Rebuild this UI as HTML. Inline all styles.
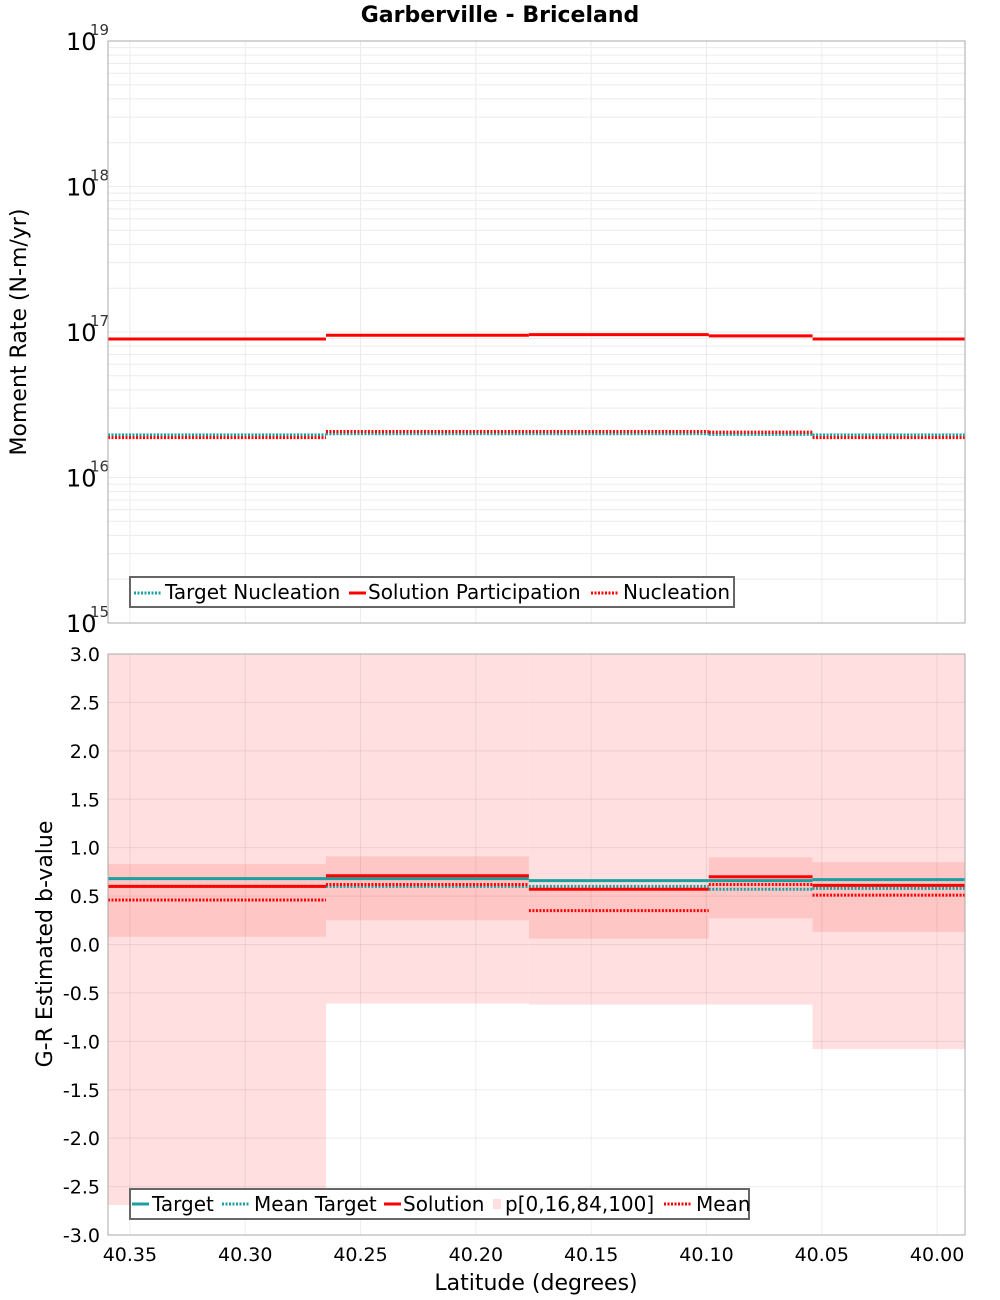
<!DOCTYPE html>
<html><head><meta charset="utf-8"><style>
body{margin:0;background:#fff}
svg{display:block;font-family:"DejaVu Sans","Liberation Sans",sans-serif}
</style></head><body>
<div style="position:relative;width:1000px;height:1300px">
<svg id="c" width="1000" height="1300" viewBox="0 0 1000 1300" xmlns="http://www.w3.org/2000/svg" style="position:absolute;left:0;top:0">
<text x="500" y="22" text-anchor="middle" font-size="22" font-weight="bold">Garberville - Briceland</text>
<g id="gtop"></g>
<g id="gbot"></g>
<text transform="translate(26,332) rotate(-90)" text-anchor="middle" font-size="22">Moment Rate (N-m/yr)</text>
<text transform="translate(52,944) rotate(-90)" text-anchor="middle" font-size="22">G-R Estimated b-value</text>
<text x="536" y="1290" text-anchor="middle" font-size="22">Latitude (degrees)</text>
<g>
<rect x="130" y="577" width="604" height="30" fill="#fff" stroke="#666" stroke-width="2"/>
<line x1="134" x2="161" y1="593" y2="593" stroke="#1aa0a0" stroke-width="3" stroke-dasharray="2 1.5"/>
<text x="165" y="599" font-size="20">Target Nucleation</text>
<line x1="349" x2="366" y1="593" y2="593" stroke="#f00" stroke-width="3"/>
<text x="368" y="599" font-size="20">Solution Participation</text>
<line x1="591" x2="619" y1="593" y2="593" stroke="#f00" stroke-width="3" stroke-dasharray="2 1.5"/>
<text x="623" y="599" font-size="20">Nucleation</text>
</g>
<g>
<rect x="130" y="1189" width="619" height="30" fill="#fff" stroke="#666" stroke-width="2"/>
<line x1="132" x2="149" y1="1204" y2="1204" stroke="#1aa0a0" stroke-width="3"/>
<text x="152" y="1211" font-size="20">Target</text>
<line x1="222" x2="250" y1="1204" y2="1204" stroke="#1aa0a0" stroke-width="3" stroke-dasharray="2 1.5"/>
<text x="254" y="1211" font-size="20">Mean Target</text>
<line x1="384" x2="401" y1="1204" y2="1204" stroke="#f00" stroke-width="3"/>
<text x="403" y="1211" font-size="20">Solution</text>
<rect x="493" y="1199" width="8" height="10" fill="#ffdfdf"/>
<text x="505" y="1211" font-size="20">p[0,16,84,100]</text>
<line x1="664" x2="692" y1="1204" y2="1204" stroke="#f00" stroke-width="3" stroke-dasharray="2 1.5"/>
<text x="696" y="1211" font-size="20">Mean</text>
</g>
</svg>
</div>
<script>
const binEdges=[40.3595,40.265,40.177,40.099,40.054,39.9879];
const xTicks=[40.35,40.30,40.25,40.20,40.15,40.10,40.05,40.00];
const targetNucleation=[1.96e16,2.0e16,2.0e16,1.98e16,1.96e16];
const solutionParticipation=[8.95e16,9.5e16,9.6e16,9.4e16,8.95e16];
const nucleation=[1.88e16,2.07e16,2.07e16,2.05e16,1.88e16];
const logTicks=[15,16,17,18,19];
const bTarget=[0.68,0.68,0.66,0.66,0.67];
const bMeanTarget=[0.60,0.60,0.60,0.57,0.58];
const bSolution=[0.60,0.71,0.57,0.70,0.61];
const bMean=[0.46,0.62,0.35,0.62,0.51];
const bP0=[-2.69,-0.61,-0.62,-0.62,-1.08];
const bP16=[0.08,0.25,0.06,0.27,0.13];
const bP84=[0.83,0.91,0.58,0.90,0.85];
const bP100=[3.0,3.0,3.0,3.0,3.0];
const bTicks=[-3.0,-2.5,-2.0,-1.5,-1.0,-0.5,0.0,0.5,1.0,1.5,2.0,2.5,3.0];

const NS="http://www.w3.org/2000/svg";
const L=108,R=965;
const xs=v=>L+(binEdges[0]-v)/(binEdges[0]-binEdges[5])*(R-L);
const T1=41,B1=623,T2=654,B2=1235;
const ys1=v=>B1-(Math.log10(v)-15)/4*(B1-T1);
const ys2=v=>B2-(v+3)/6*(B2-T2);
function mk(p,tag,a){const e=document.createElementNS(NS,tag);for(const k in a)e.setAttribute(k,a[k]);p.appendChild(e);return e;}
const gTop=document.getElementById('gtop'),gBot=document.getElementById('gbot');

mk(gTop,'rect',{x:L,y:T1,width:R-L,height:B1-T1,fill:'#fff'});
for(let d=15;d<19;d++)for(let m=1;m<10;m++){const y=ys1(m*Math.pow(10,d));
 const g=mk(gTop,'line',{x1:L,x2:R,y1:y,y2:y,stroke:'#ececec','stroke-width':1});
 
 }
xTicks.forEach(t=>{const x=xs(t);
 const g=mk(gTop,'line',{x1:x,x2:x,y1:T1,y2:B1,stroke:'#ececec'});
 
 });
logTicks.forEach(t=>{const y=ys1(Math.pow(10,t));
 const tx=mk(gTop,'text',{x:66,y:y+9,'font-size':24});
 tx.textContent='10';
 
 
 const s=mk(gTop,'text',{x:90,y:y-6,'font-size':15,fill:'#333'});s.textContent=String(t);
 
 });
function steps(p,arr,ys,attrs,name){for(let i=0;i<arr.length;i++){
 const e=mk(p,'line',Object.assign({x1:xs(binEdges[i]),x2:xs(binEdges[i+1]),y1:ys(arr[i]),y2:ys(arr[i])},attrs));
 
 }}
steps(gTop,targetNucleation,ys1,{stroke:'#1aa0a0','stroke-width':3,'stroke-dasharray':'2 1.5'},'target-nucleation');
steps(gTop,solutionParticipation,ys1,{stroke:'#f00','stroke-width':3},'solution-participation');
steps(gTop,nucleation,ys1,{stroke:'#f00','stroke-width':3,'stroke-dasharray':'2 1.5'},'nucleation');
mk(gTop,'rect',{x:L,y:T1,width:R-L,height:B1-T1,fill:'none',stroke:'#aaa'});

for(let i=0;i<5;i++){const x1=xs(binEdges[i]),x2=xs(binEdges[i+1]);
 const a=mk(gBot,'rect',{x:x1,y:ys2(bP100[i]),width:x2-x1,height:ys2(bP0[i])-ys2(bP100[i]),fill:'#ffdfdf'});
 
 
 const b=mk(gBot,'rect',{x:x1,y:ys2(bP84[i]),width:x2-x1,height:ys2(bP16[i])-ys2(bP84[i]),fill:'#ffc6c6'});
 
 }
bTicks.forEach(t=>{const y=ys2(t);
 const g=mk(gBot,'line',{x1:L,x2:R,y1:y,y2:y,stroke:'rgba(0,0,0,0.07)'});
 
 
 const tx=mk(gBot,'text',{x:100,y:y+7,'font-size':19,'text-anchor':'end'});
 tx.textContent=t.toFixed(1);
 
 });
xTicks.forEach(t=>{const x=xs(t);
 const g=mk(gBot,'line',{x1:x,x2:x,y1:T2,y2:B2,stroke:'rgba(0,0,0,0.07)'});
 
 
 const tx=mk(gBot,'text',{x:x,y:1261,'font-size':19,'text-anchor':'middle'});
 tx.textContent=t.toFixed(2);
 
 });
steps(gBot,bTarget,ys2,{stroke:'#1aa0a0','stroke-width':3},'target');
steps(gBot,bMeanTarget,ys2,{stroke:'#1aa0a0','stroke-width':3,'stroke-dasharray':'2 1.5'},'mean-target');
steps(gBot,bSolution,ys2,{stroke:'#f00','stroke-width':3},'solution');
steps(gBot,bMean,ys2,{stroke:'#f00','stroke-width':3,'stroke-dasharray':'2 1.5'},'mean');
mk(gBot,'rect',{x:L,y:T2,width:R-L,height:B2-T2,fill:'none',stroke:'#aaa'});
</script>
</body></html>
